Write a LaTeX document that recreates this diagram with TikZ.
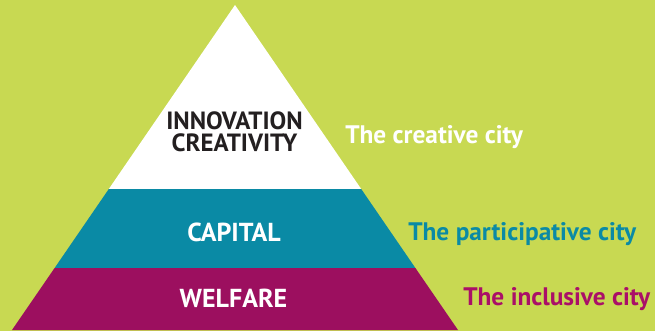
\documentclass[tikz,border=0pt]{standalone}
\usepackage{fontspec}
\setmainfont{PT Sans}
\definecolor{bggreen}{HTML}{C8D952}
\definecolor{teal}{HTML}{0A8AA5}
\definecolor{magen}{HTML}{9C0F5F}
\definecolor{pinktxt}{HTML}{AA0F68}
\definecolor{darktxt}{HTML}{231F20}
\begin{document}
\begin{tikzpicture}[x=0.75pt,y=-0.75pt,
  layertxt/.style={font=\bfseries\fontsize{19.5}{20}\selectfont, inner sep=0pt},
  toptxt/.style={font=\bfseries\fontsize{18.7}{20}\selectfont, inner sep=0pt, anchor=base, text=darktxt, text height=13.2pt, text depth=0pt},
  citytxt/.style={font=\bfseries\fontsize{19}{20}\selectfont, inner sep=0pt, anchor=base west}]
\fill[bggreen] (0,0) rectangle (655,331);
\useasboundingbox (0,0) rectangle (655,331);
% pyramid layers
\fill[white] (235,5) -- (108.8,189) -- (361.2,189) -- cycle;
\fill[teal] (108.8,189) -- (54.6,268) -- (415.4,268) -- (361.2,189) -- cycle;
\fill[magen] (54.6,268) -- (12,330) -- (458,330) -- (415.4,268) -- cycle;
% layer labels
\node[toptxt] (innov) at (234.5,130) {INNOVATION};
\node[toptxt] (creat) at (234.5,152) {CREATIVITY};
\node[layertxt, text=white] (capital) at (234,232) {CAPITAL};
\node[layertxt, text=white] (welfare) at (233.5,298) {WELFARE};
% city labels
\node[citytxt, text=white] (creative) at (345,144) {The creative city};
\node[citytxt, text=teal] (particip) at (408,240) {The participative city};
\node[citytxt, text=pinktxt] (inclus) at (463,305) {The inclusive city};
\end{tikzpicture}
\end{document}
